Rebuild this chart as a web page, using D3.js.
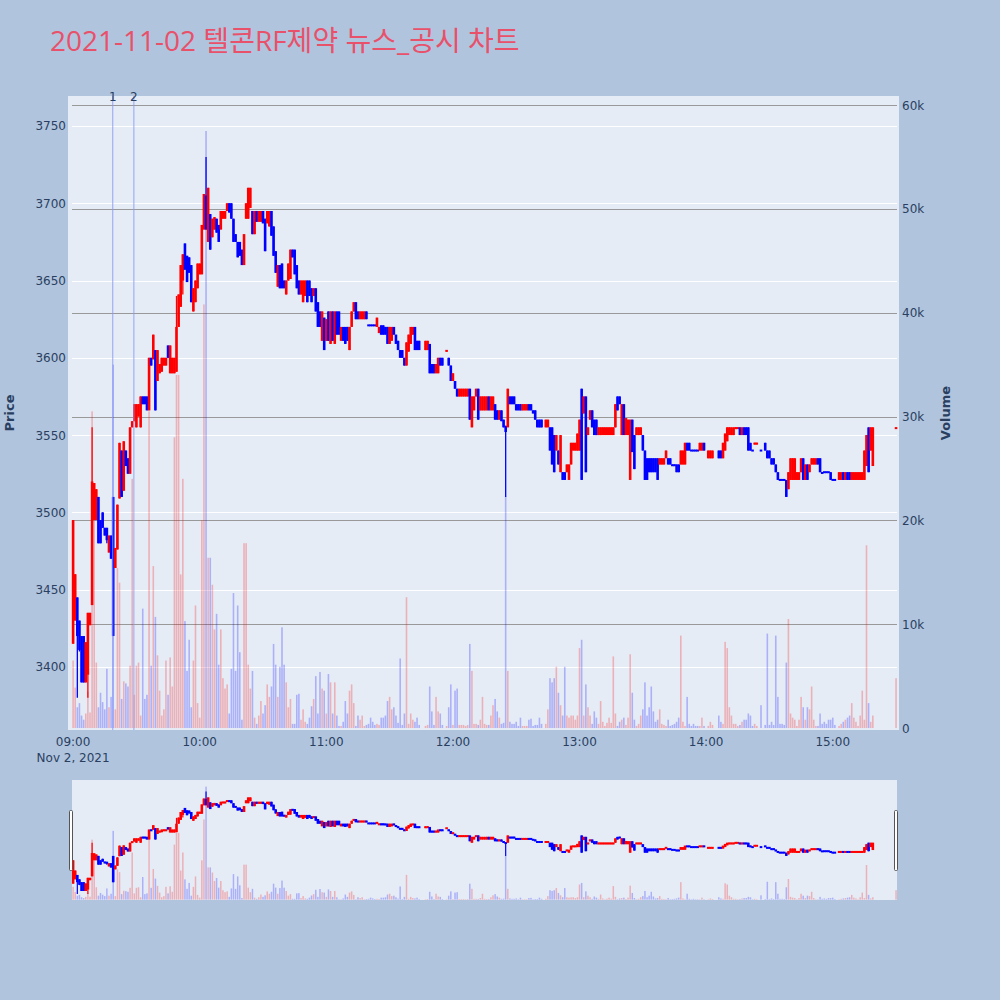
<!DOCTYPE html>
<html><head><meta charset="utf-8">
<script src="https://cdn.jsdelivr.net/npm/d3@7"></script>
<style>body{margin:0;background:#B0C4DE;} svg{display:block;} text{font-family:"DejaVu Sans","Noto Sans CJK KR",sans-serif;} text.ttl{font-family:"Open Sans","Noto Sans CJK KR",sans-serif;}</style>
</head><body><svg id="c" width="1000" height="1000"></svg>
<script>
// minutes after 09:00 on 2021-11-02
const minute = [
0,1,2,3,4,5,6,7,8,9,
10,11,12,13,14,15,16,17,18,19,
20,21,22,23,24,25,26,27,28,29,
30,31,32,33,34,35,36,37,38,39,
40,41,42,43,44,45,46,47,48,49,
50,51,52,53,54,55,56,57,58,59,
60,61,62,63,64,65,66,67,68,69,
70,71,72,73,74,75,76,77,78,79,
80,81,82,83,84,85,86,87,88,89,
90,91,92,93,94,95,96,97,98,99,
100,101,102,103,104,105,106,107,108,109,
110,111,112,113,114,115,116,117,118,119,
120,121,122,123,124,125,126,127,128,129,
130,131,132,133,134,135,136,137,138,139,
140,141,142,143,144,145,146,147,148,149,
150,151,152,153,154,155,156,157,158,159,
160,161,162,163,164,
167,168,169,170,171,172,173,174,175,
177,178,179,
180,181,182,183,184,185,186,187,188,189,
190,191,192,193,194,195,196,197,198,199,
200,201,202,203,204,205,206,207,208,209,
210,211,212,213,214,215,216,217,218,219,
220,221,222,
224,225,226,227,228,229,
230,231,232,233,234,235,236,237,238,239,
240,241,242,243,244,245,246,247,248,249,
250,251,252,253,254,255,256,257,258,259,
260,261,262,263,264,265,266,267,268,269,
270,271,272,273,274,275,276,277,278,279,
280,281,282,283,284,285,286,287,288,289,
290,291,292,293,294,295,296,297,298,299,
301,302,303,
306,307,308,309,
310,311,312,313,314,315,316,317,318,319,
320,321,322,323,324,
326,
328,329,
330,331,332,333,334,335,336,337,338,339,
340,341,342,343,344,345,346,347,348,349,
350,351,352,353,354,355,356,357,358,359,
360,361,
363,364,365,366,367,368,369,
370,371,372,373,374,375,376,377,378,379,
390];
const open = [
3415,3430,3445,3430,3420,3420,3390,3395,3427,3440,
3495,3495,3510,3495,3500,3490,3490,3474,3485,3510,
3464,3476,3509,3540,3514,3540,3535,3525,3555,3559,
3555,3562,3555,3575,3575,3575,3566,3600,3599,3605,
3585,3590,3591,3595,3595,3608,3590,3590,3590,3591,
3620,3633,3650,3674,3666,3665,3660,3630,3636,3645,
3654,3654,3683,3705,3675,3693,3678,3683,3690,3686,
3683,3690,3690,3695,3700,3700,3690,3680,3675,3675,
3670,3660,3690,3690,3697,3695,3680,3695,3688,3688,
3695,3690,3687,3685,3695,3685,3669,3646,3660,3661,
3650,3641,3650,3651,3670,3670,3660,3650,3641,3636,
3640,3650,3650,3645,3640,3645,3636,3630,3611,3626,
3611,3630,3609,3630,3609,3630,3630,3611,3620,3620,
3620,3605,3620,3630,3636,3630,3625,3625,3625,3630,
3621,3621,3621,3621,3620,3616,3621,3621,3620,3620,
3609,3611,3620,3615,3611,3605,3605,3600,3595,3604,
3609,3615,3620,3611,3611,
3605,3605,3609,3596,3596,3590,3590,3600,3600,
3604,3600,3595,
3585,3585,3580,3575,3575,3575,3575,3575,3580,3555,
3566,3575,3580,3566,3566,3566,3566,3575,3566,3566,
3570,3566,3560,3566,3560,3556,3555,3575,3575,3575,
3570,3570,3570,3566,3566,3566,3570,3570,3566,3566,
3560,3560,3560,
3555,3555,3555,3555,3550,3540,
3540,3526,3526,3526,3526,3521,3531,3540,3540,3540,
3540,3580,3564,3575,3550,3560,3566,3560,3560,3550,
3550,3550,3550,3550,3550,3550,3550,3555,3575,3575,
3550,3570,3550,3550,3521,3560,3550,3550,3550,3550,
3550,3540,3535,3535,3535,3535,3535,3535,3531,3531,
3531,3535,3535,3535,3531,3531,3531,3531,3531,3531,
3531,3545,3545,3540,3540,3540,3540,3540,3540,3545,
3535,3535,3535,
3540,3540,3535,3540,
3546,3550,3550,3550,3554,3554,3555,3550,3555,3555,
3555,3545,3540,3544,3544,
3540,
3545,3540,
3540,3535,3535,3531,3526,3521,3521,3521,3521,3515,
3521,3521,3521,3521,3521,3526,3535,3521,3531,3526,
3531,3531,3531,3535,3535,3526,3526,3526,3526,3526,
3521,3521,
3521,3521,3526,3521,3526,3526,3521,
3521,3521,3521,3521,3521,3521,3530,3555,3540,3530,
3554];
const high = [
3495,3460,3445,3430,3420,3420,3416,3435,3435,3555,
3519,3515,3510,3495,3500,3490,3490,3485,3485,3510,
3477,3505,3545,3540,3546,3540,3535,3555,3559,3570,
3570,3570,3575,3575,3575,3575,3600,3600,3615,3605,
3605,3596,3600,3600,3600,3608,3608,3600,3600,3640,
3641,3660,3667,3674,3666,3665,3660,3645,3650,3661,
3661,3686,3706,3730,3710,3693,3690,3691,3690,3686,
3695,3695,3695,3700,3700,3700,3690,3680,3675,3675,
3670,3680,3700,3710,3710,3695,3695,3695,3695,3695,
3695,3690,3695,3695,3695,3685,3669,3660,3660,3661,
3650,3650,3661,3670,3670,3670,3660,3650,3650,3650,
3650,3650,3650,3645,3645,3645,3636,3630,3630,3626,
3625,3630,3630,3630,3630,3630,3630,3620,3620,3620,
3620,3620,3630,3636,3636,3630,3630,3630,3630,3630,
3621,3621,3621,3621,3626,3620,3621,3621,3620,3620,
3620,3620,3620,3615,3611,3605,3605,3600,3610,3615,
3620,3620,3620,3611,3611,
3611,3611,3609,3596,3596,3596,3600,3600,3600,
3605,3600,3595,
3590,3585,3580,3580,3580,3580,3580,3580,3580,3575,
3575,3580,3580,3575,3575,3575,3575,3575,3575,3575,
3570,3566,3566,3566,3560,3556,3580,3575,3575,3575,
3570,3570,3570,3570,3570,3570,3570,3570,3566,3566,
3560,3560,3560,
3560,3560,3555,3555,3550,3550,
3540,3550,3526,3526,3531,3531,3545,3545,3545,3551,
3560,3580,3575,3575,3555,3566,3566,3560,3560,3555,
3555,3555,3555,3555,3555,3555,3555,3570,3575,3575,
3570,3570,3561,3560,3560,3560,3550,3555,3555,3555,
3550,3540,3535,3535,3535,3535,3535,3535,3535,3535,
3535,3540,3535,3535,3531,3531,3531,3531,3540,3540,
3545,3545,3545,3540,3540,3540,3540,3545,3545,3545,
3540,3540,3540,
3540,3540,3545,3551,
3555,3555,3555,3555,3555,3555,3555,3555,3555,3555,
3555,3545,3540,3545,3545,
3540,
3545,3540,
3540,3535,3535,3531,3526,3521,3521,3521,3521,3526,
3535,3535,3535,3526,3526,3535,3535,3531,3531,3531,
3535,3535,3535,3535,3535,3526,3526,3526,3526,3526,
3521,3521,
3526,3526,3526,3526,3526,3526,3526,
3526,3526,3526,3526,3526,3540,3550,3555,3555,3555,
3555];
const low = [
3415,3430,3380,3410,3390,3390,3390,3380,3427,3440,
3495,3495,3480,3480,3490,3485,3480,3474,3470,3420,
3464,3476,3509,3510,3514,3530,3525,3525,3555,3559,
3555,3562,3555,3570,3570,3566,3566,3595,3599,3566,
3585,3590,3591,3595,3595,3600,3590,3590,3590,3591,
3620,3633,3641,3657,3649,3655,3636,3630,3636,3645,
3654,3654,3683,3683,3675,3670,3678,3683,3681,3675,
3683,3690,3690,3695,3694,3690,3675,3675,3665,3666,
3660,3660,3690,3690,3697,3680,3680,3688,3688,3688,
3687,3669,3687,3685,3679,3666,3655,3646,3645,3645,
3645,3641,3650,3651,3665,3654,3645,3641,3641,3636,
3640,3636,3640,3636,3640,3630,3620,3620,3611,3605,
3611,3611,3609,3611,3609,3615,3615,3611,3611,3609,
3611,3605,3620,3630,3625,3625,3625,3625,3625,3625,
3621,3621,3621,3621,3620,3616,3615,3615,3615,3609,
3609,3611,3615,3609,3605,3600,3600,3595,3595,3604,
3609,3615,3605,3605,3605,
3605,3605,3590,3590,3590,3590,3590,3595,3595,
3604,3595,3585,
3585,3580,3575,3575,3575,3575,3575,3575,3560,3555,
3566,3575,3560,3566,3566,3566,3566,3566,3566,3566,
3560,3560,3560,3559,3555,3510,3555,3570,3570,3570,
3566,3566,3566,3566,3566,3566,3566,3566,3564,3560,
3555,3555,3555,
3555,3555,3540,3531,3526,3540,
3531,3526,3521,3521,3526,3521,3531,3540,3540,3540,
3540,3521,3564,3526,3550,3560,3555,3550,3550,3550,
3550,3550,3550,3550,3550,3550,3550,3555,3566,3570,
3550,3550,3550,3550,3521,3539,3528,3550,3550,3550,
3540,3521,3521,3526,3526,3526,3526,3521,3531,3531,
3531,3535,3531,3531,3530,3530,3526,3526,3531,3531,
3531,3540,3540,3540,3540,3540,3540,3540,3540,3540,
3535,3535,3535,
3535,3535,3535,3540,
3546,3550,3550,3550,3554,3554,3550,3550,3550,3550,
3540,3540,3540,3544,3544,
3540,
3540,3535,
3535,3531,3531,3526,3521,3521,3521,3521,3510,3515,
3521,3521,3521,3521,3521,3526,3521,3521,3521,3526,
3531,3531,3531,3531,3526,3525,3526,3526,3526,3521,
3521,3521,
3521,3521,3521,3521,3521,3521,3521,
3521,3521,3521,3521,3521,3521,3530,3526,3540,3530,
3554];
const close = [
3495,3460,3420,3411,3390,3390,3416,3435,3435,3520,
3519,3515,3480,3480,3490,3485,3482,3485,3470,3420,
3477,3505,3545,3510,3546,3530,3525,3555,3559,3570,
3570,3570,3575,3570,3570,3566,3600,3595,3615,3566,
3605,3596,3600,3600,3600,3600,3608,3600,3600,3620,
3641,3660,3667,3657,3649,3655,3636,3645,3650,3661,
3661,3686,3706,3683,3710,3670,3690,3691,3681,3675,
3695,3695,3695,3700,3694,3690,3675,3675,3665,3666,
3660,3680,3700,3710,3710,3680,3695,3688,3695,3695,
3687,3669,3695,3695,3679,3666,3655,3660,3645,3645,
3645,3650,3661,3670,3665,3654,3645,3641,3650,3650,
3650,3636,3640,3636,3645,3630,3620,3620,3630,3605,
3625,3611,3630,3611,3630,3615,3615,3620,3611,3609,
3611,3620,3630,3636,3625,3625,3630,3630,3630,3625,
3621,3621,3621,3621,3626,3620,3615,3615,3615,3609,
3620,3620,3615,3609,3605,3600,3600,3595,3610,3615,
3620,3620,3605,3605,3605,
3611,3611,3590,3590,3590,3596,3600,3595,3595,
3605,3595,3585,
3590,3580,3575,3580,3580,3580,3580,3580,3560,3575,
3575,3580,3560,3575,3575,3575,3575,3566,3575,3575,
3560,3560,3566,3559,3555,3552,3580,3570,3570,3570,
3566,3566,3566,3570,3570,3570,3566,3566,3564,3560,
3555,3555,3555,
3560,3560,3540,3531,3526,3550,
3531,3550,3521,3521,3531,3531,3545,3545,3545,3551,
3560,3521,3575,3526,3555,3566,3555,3550,3550,3555,
3555,3555,3555,3555,3555,3555,3555,3570,3566,3570,
3570,3550,3561,3560,3560,3539,3528,3555,3555,3555,
3540,3521,3521,3526,3526,3526,3526,3521,3535,3535,
3535,3540,3531,3531,3530,3530,3526,3526,3540,3540,
3545,3540,3540,3540,3540,3540,3540,3545,3545,3540,
3540,3540,3540,
3535,3535,3545,3551,
3555,3555,3555,3555,3555,3555,3550,3555,3550,3550,
3540,3540,3540,3545,3545,
3540,
3540,3535,
3535,3531,3531,3526,3521,3521,3521,3521,3510,3526,
3535,3535,3535,3526,3526,3535,3521,3531,3521,3531,
3535,3535,3535,3531,3526,3525,3526,3526,3526,3521,
3521,3521,
3526,3526,3521,3526,3521,3521,3526,
3526,3526,3526,3526,3526,3540,3550,3526,3555,3555,
3555];
const volume = [
6500,3900,2000,2400,1200,800,1400,3500,1500,30500,
20000,6300,2000,3400,2500,1800,5700,2000,3000,35000,
1800,15400,14000,2800,4500,4300,4000,6000,24000,3200,
6000,6300,1200,11500,2800,3200,30500,6000,15600,10700,
7000,3600,1200,1800,6500,3200,6800,4000,28000,34000,
34000,14800,24000,10300,5500,8500,2000,6500,11800,2400,
1000,20000,40800,57500,16400,16400,13800,9500,11000,6100,
9500,4800,3800,4200,1400,5700,13000,5500,11800,7300,
800,17800,17800,6100,3800,5500,1000,400,1200,2600,
1400,2200,4200,3000,4000,8100,6100,3000,5900,9700,
6100,4400,2000,2800,400,400,3200,3300,800,1800,
600,400,1000,2100,2800,5000,1400,5400,3800,3600,
1400,5200,4400,1400,4400,1200,200,200,600,2600,
1400,3600,4200,2400,200,1200,800,1200,200,300,
400,1000,600,300,400,300,1000,1000,1200,2600,
3000,1800,2000,1200,500,6700,300,1400,12600,400,
1400,800,600,1000,300,
200,300,4000,1600,300,3000,1600,1400,300,
200,2000,4200,
300,3600,3800,300,300,300,200,300,8100,5500,
400,400,300,800,3000,400,300,300,1200,2200,
2800,1600,1000,400,500,22300,5500,600,400,400,
600,200,1000,200,200,200,800,900,200,300,
300,1000,400,
400,1800,4800,4400,4800,5900,
3400,2200,1200,5900,1200,1000,1200,1200,800,1200,
7700,8500,1200,4200,2000,1200,400,1600,1000,400,
2600,600,200,500,1000,500,6900,1400,200,600,
800,1000,300,1000,7100,3400,800,200,400,1200,
1800,4400,1200,2000,4000,1600,600,800,1800,400,
300,200,800,200,300,400,600,1000,8900,600,
200,3000,400,200,400,200,200,200,1000,200,
200,600,300,
1200,600,400,8300,
7700,2000,1200,400,400,200,300,600,800,800,
1400,1200,200,400,200,
2200,
300,9100,
300,600,300,8900,3000,400,400,300,6300,10500,
1400,1000,800,200,800,3000,2000,800,2000,1800,
4000,800,200,200,1400,400,600,400,800,800,
1000,300,
200,400,600,800,1000,1200,2400,
1000,600,200,1200,3600,800,17600,2400,600,1200,
4800];
const newsMinutes = [18.8, 28.8];
const newsLabels = ["1", "2"];
const priceTicks = [3400, 3450, 3500, 3550, 3600, 3650, 3700, 3750];
const volumeTicks = [0, 10000, 20000, 30000, 40000, 50000, 60000];
const hourTicks = ["09:00","10:00","11:00","12:00","13:00","14:00","15:00"];
const titleText = "2021-11-02 텔콘RF제약 뉴스_공시 차트";

const svg = d3.select('#c');
const base = new Date(2021, 10, 2, 9, 0, 0);
const toDate = m => new Date(base.getTime() + m * 60000);
const data = minute.map((m, i) => ({t: toDate(m), o: open[i], h: high[i], l: low[i], c: close[i], v: volume[i]}));

const P = {l: 68, r: 899, t: 96, b: 730};
const S = {l: 72, r: 897, t: 780, b: 900};
const x = d3.scaleTime().domain([toDate(-2.42), toDate(391.4)]).range([P.l, P.r]);
const yP = d3.scaleLinear().domain([3359.2, 3769.4]).range([P.b, P.t]);
const yV = d3.scaleLinear().domain([-190, 60870]).range([P.b, P.t]);
const yPs = d3.scaleLinear().domain([3359.2, 3769.4]).range([S.b, S.t]);
const yVs = d3.scaleLinear().domain([-190, 60870]).range([S.b, S.t]);

const RED = '#FF0000', BLUE = '#0000FF';
const col = d => d.c > d.o ? RED : BLUE;

// background
svg.append('rect').attr('width', 1000).attr('height', 1000).attr('fill', '#B0C4DE');
svg.append('rect').attr('x', P.l).attr('y', P.t).attr('width', P.r - P.l).attr('height', P.b - P.t).attr('fill', '#E5ECF6');

// title
svg.append('text').attr('class', 'ttl').attr('x', 50).attr('y', 51).attr('fill', '#E9506A')
  .attr('font-size', 28).text(titleText);

// grids
const gl = 72, gr = 897;
svg.append('g').selectAll('line').data(priceTicks).join('line')
  .attr('x1', gl).attr('x2', gr).attr('y1', d => Math.round(yP(d)) + 0.5).attr('y2', d => Math.round(yP(d)) + 0.5)
  .attr('stroke', '#fff').attr('stroke-width', 1);
svg.append('g').selectAll('line').data(volumeTicks.filter(d => d > 0)).join('line')
  .attr('x1', gl).attr('x2', gr).attr('y1', d => Math.round(yV(d)) + 0.5).attr('y2', d => Math.round(yV(d)) + 0.5)
  .attr('stroke', '#999').attr('stroke-width', 1);

// clip
svg.append('clipPath').attr('id', 'pc').append('rect').attr('x', P.l).attr('y', P.t).attr('width', P.r - P.l).attr('height', P.b - P.t);

function drawCandles(g, ys, bodyW, wickW, minH) {
  g.selectAll('line.w').data(data).join('line').attr('class', 'w')
    .attr('x1', d => x(d.t)).attr('x2', d => x(d.t))
    .attr('y1', d => ys(d.h)).attr('y2', d => ys(d.l))
    .attr('stroke', col).attr('stroke-width', wickW);
  g.selectAll('rect.b').data(data).join('rect').attr('class', 'b')
    .attr('x', d => x(d.t) - bodyW / 2)
    .attr('y', d => Math.min(ys(d.o), ys(d.c)) - (Math.abs(ys(d.o) - ys(d.c)) < minH ? (minH - Math.abs(ys(d.o) - ys(d.c))) / 2 : 0))
    .attr('width', bodyW)
    .attr('height', d => Math.max(minH, Math.abs(ys(d.o) - ys(d.c))))
    .attr('fill', col);
}
function drawVolume(g, ys, w, op) {
  g.selectAll('rect.v').data(data).join('rect').attr('class', 'v')
    .attr('x', d => x(d.t) - w / 2).attr('width', w)
    .attr('y', d => ys(d.v)).attr('height', d => ys(0) - ys(d.v))
    .attr('fill', col).attr('opacity', op);
}
const main = svg.append('g').attr('clip-path', 'url(#pc)');
drawCandles(main.append('g'), yP, 2.6, 1.3, 2);
drawVolume(main.append('g'), yV, 1.6, 0.25);

// news lines
svg.append('g').selectAll('line').data(newsMinutes).join('line')
  .attr('x1', d => x(toDate(d))).attr('x2', d => x(toDate(d)))
  .attr('y1', P.t).attr('y2', P.b).attr('stroke', '#8c9cf5').attr('stroke-width', 1).attr('opacity', 0.9);
svg.append('g').selectAll('text').data(newsMinutes).join('text')
  .attr('x', d => x(toDate(d))).attr('y', 101).attr('text-anchor', 'middle')
  .attr('fill', '#2a3f5f').attr('font-size', 12).text((d, i) => newsLabels[i]);

// axes labels
const tc = '#2a3f5f';
svg.append('g').selectAll('text').data(priceTicks).join('text')
  .attr('x', 66).attr('y', d => yP(d) + 4.5).attr('text-anchor', 'end')
  .attr('fill', tc).attr('font-size', 12).text(d => d);
svg.append('g').selectAll('text').data(volumeTicks).join('text')
  .attr('x', 902).attr('y', d => yV(d) + 4.5).attr('text-anchor', 'start')
  .attr('fill', tc).attr('font-size', 12).text(d => d === 0 ? '0' : (d / 1000) + 'k');
svg.append('g').selectAll('text').data(hourTicks).join('text')
  .attr('x', (d, i) => x(toDate(i * 60))).attr('y', 746).attr('text-anchor', 'middle')
  .attr('fill', tc).attr('font-size', 12).text(d => d);
svg.append('text').attr('x', x(toDate(0))).attr('y', 762).attr('text-anchor', 'middle')
  .attr('fill', tc).attr('font-size', 12).text('Nov 2, 2021');
svg.append('text').attr('transform', 'translate(14,413) rotate(-90)').attr('text-anchor', 'middle')
  .attr('fill', tc).attr('font-size', 13).attr('font-weight', 'bold').text('Price');
svg.append('text').attr('transform', 'translate(950,413) rotate(-90)').attr('text-anchor', 'middle')
  .attr('fill', tc).attr('font-size', 13).attr('font-weight', 'bold').text('Volume');

// range slider
svg.append('rect').attr('x', S.l).attr('y', S.t).attr('width', S.r - S.l).attr('height', S.b - S.t).attr('fill', '#E5ECF6');
svg.append('clipPath').attr('id', 'sc').append('rect').attr('x', S.l).attr('y', S.t).attr('width', S.r - S.l).attr('height', S.b - S.t);
const sl = svg.append('g').attr('clip-path', 'url(#sc)');
drawCandles(sl.append('g'), yPs, 2.6, 1.2, 2);
drawVolume(sl.append('g'), yVs, 1.5, 0.25);
[[69, 810], [894, 810]].forEach(([hx, hy]) => {
  svg.append('rect').attr('x', hx + 0.5).attr('y', hy + 0.5).attr('width', 3).attr('height', 60)
    .attr('fill', '#fff').attr('stroke', '#555').attr('stroke-width', 1).attr('rx', 1);
});
</script></body></html>
